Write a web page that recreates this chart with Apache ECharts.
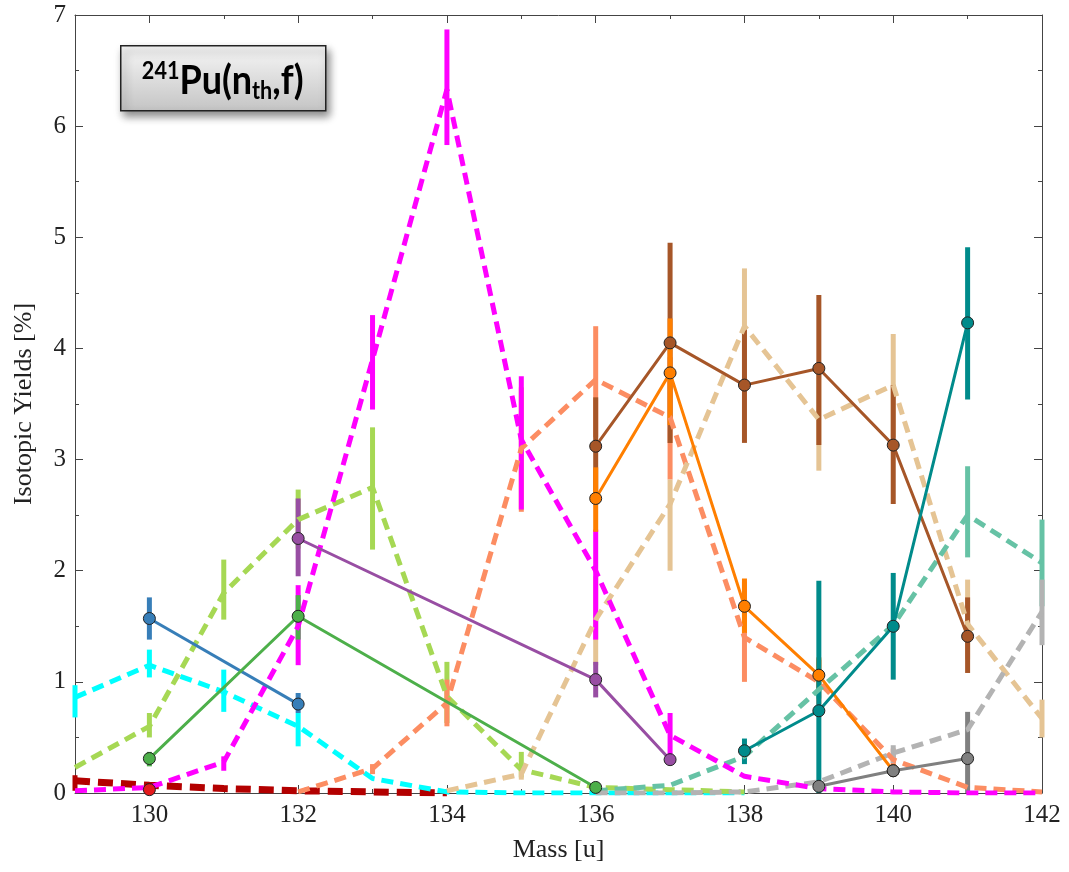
<!DOCTYPE html>
<html>
<head>
    <meta charset="UTF-8">
    <script src="https://cdn.jsdelivr.net/npm/echarts@6/dist/echarts.min.js"></script>
    <title>241Pu isotopic yields</title>
    <style>
        html, body { margin: 0; padding: 0; background: #fff; }
        #box { width: 1069px; height: 872px; }
    </style>
</head>
<body>
    <div id="box"></div>
    <script>
        // tick labels
        const majorTicks = [130, 132, 134, 136, 138, 140, 142]
        const minorTicks = [129, 131, 133, 135, 137, 139, 141]

        // dashed curves (calculated)
        const darkRedX = [129, 130, 131, 132, 133, 134]
        const darkRedY = [0.11, 0.07, 0.04, 0.02, 0.01, 0.0]
        const cyanX = [129, 130, 131, 132, 133, 134, 135, 136, 137, 138]
        const cyanY = [0.86, 1.15, 0.91, 0.60, 0.13, 0.01, 0, 0, 0, 0]
        const limeX = [129, 130, 131, 132, 133, 134, 135, 136, 137, 138]
        const limeY = [0.23, 0.60, 1.80, 2.46, 2.75, 0.87, 0.21, 0.05, 0.03, 0.01]
        const magentaX = [129, 130, 131, 132, 133, 134, 135, 136, 137, 138, 139, 140, 141, 142]
        const magentaY = [0.02, 0.05, 0.28, 1.50, 3.90, 6.33, 3.18, 2.00, 0.52, 0.15, 0.04, 0.01, 0, 0]
        const salmonX = [132, 133, 134, 135, 136, 137, 138, 139, 140, 141, 142]
        const salmonY = [0.01, 0.22, 0.81, 3.10, 3.72, 3.38, 1.40, 1.00, 0.30, 0.05, 0.01]
        const tanX = [134, 135, 136, 137, 138, 139, 140, 141, 142]
        const tanY = [0.02, 0.17, 1.56, 2.60, 4.20, 3.36, 3.67, 1.52, 0.67]
        const aquaX = [136, 137, 138, 139, 140, 141, 142]
        const aquaY = [0.02, 0.07, 0.33, 0.93, 1.51, 2.50, 2.07]
        const grayDashX = [136, 137, 138, 139, 140, 141, 142]
        const grayDashY = [0.0, 0.0, 0.01, 0.10, 0.36, 0.57, 1.63]

        // measured points
        const blueX = [130, 132]
        const blueY = [1.57, 0.80]
        const greenX = [130, 132, 136]
        const greenY = [0.31, 1.59, 0.05]
        const purpleX = [132, 136, 137]
        const purpleY = [2.29, 1.02, 0.30]
        const brownX = [136, 137, 138, 139, 140, 141]
        const brownY = [3.12, 4.05, 3.67, 3.82, 3.13, 1.41]
        const orangeX = [136, 137, 138, 139, 140]
        const orangeY = [2.65, 3.78, 1.68, 1.06, 0.20]
        const tealX = [138, 139, 140, 141]
        const tealY = [0.38, 0.74, 1.50, 4.23]
        const graySolidX = [139, 140, 141]
        const graySolidY = [0.06, 0.20, 0.31]
        const redX = [130]
        const redY = [0.03]

        // error bars: [mass, low, high]
        const darkRedErr = [[129, 0.02, 0.16]]
        const cyanErr = [[129, 0.68, 0.97], [130, 1.04, 1.29], [131, 0.73, 1.11], [132, 0.42, 0.72]]
        const limeErr = [[130, 0.50, 0.72], [131, 1.56, 2.10], [132, 2.20, 2.73], [133, 2.19, 3.29], [134, 0.63, 1.18], [135, 0.14, 0.37]]
        const magentaErr = [[131, 0.20, 0.33], [132, 1.15, 1.87], [133, 3.45, 4.30], [134, 5.83, 6.87], [135, 2.55, 3.75], [136, 1.38, 2.37], [137, 0.33, 0.72]]
        const salmonErr = [[133, 0.17, 0.26], [134, 0.60, 1.02], [135, 2.53, 3.65], [136, 3.20, 4.20], [137, 2.82, 3.92], [138, 1.00, 1.90], [139, 0.80, 1.20], [140, 0.20, 0.40]]
        const tanErr = [[135, 0.12, 0.22], [136, 1.15, 1.95], [137, 2.00, 2.82], [138, 3.68, 4.72], [139, 2.90, 3.80], [140, 3.20, 4.13], [141, 1.20, 1.92], [142, 0.50, 0.84]]
        const aquaErr = [[138, 0.30, 0.40], [139, 0.85, 1.00], [141, 2.12, 2.94], [142, 1.68, 2.46]]
        const grayDashErr = [[140, 0.27, 0.43], [142, 1.33, 1.92]]
        const blueErr = [[130, 1.38, 1.76], [132, 0.72, 0.90]]
        const greenErr = [[130, 0.24, 0.37], [132, 1.38, 1.78], [136, 0.0, 0.10]]
        const purpleErr = [[132, 1.95, 2.65], [136, 0.86, 1.18]]
        const brownErr = [[136, 2.68, 3.56], [137, 3.15, 4.95], [138, 3.15, 4.19], [139, 3.13, 4.48], [140, 2.60, 3.67], [141, 1.08, 1.76]]
        const orangeErr = [[136, 2.35, 2.93], [137, 3.31, 4.27], [138, 1.44, 1.93], [139, 0.93, 1.22], [140, 0.15, 0.26]]
        const tealErr = [[138, 0.26, 0.49], [139, 0.0, 1.91], [140, 1.02, 1.98], [141, 3.54, 4.91]]
        const graySolidErr = [[141, 0.0, 0.73]]

        function pairs(xs, ys) {
            return xs.map((x, i) => [x, ys[i]])
        }

        function errSeries(data, color) {
            return {
                type: 'custom',
                data: data,
                encode: { x: 0, y: [1, 2] },
                silent: true,
                renderItem: function (params, api) {
                    const a = api.coord([api.value(0), api.value(1)])
                    const b = api.coord([api.value(0), api.value(2)])
                    return {
                        type: 'line',
                        shape: { x1: a[0], y1: a[1], x2: b[0], y2: b[1] },
                        style: { stroke: color, lineWidth: 5 }
                    }
                }
            }
        }

        function dashSeries(xs, ys, color, width, dash) {
            return {
                type: 'line',
                data: pairs(xs, ys),
                symbol: 'none',
                silent: true,
                lineStyle: { color: color, width: width, type: dash }
            }
        }

        function solidSeries(xs, ys, color) {
            return {
                type: 'line',
                data: pairs(xs, ys),
                symbol: 'circle',
                symbolSize: 12,
                silent: true,
                lineStyle: { color: color, width: 3 },
                itemStyle: { color: color, borderColor: '#222', borderWidth: 1 }
            }
        }

        const series = []
        series.push(dashSeries(darkRedX, darkRedY, '#b30000', 7, [15, 8]), errSeries(darkRedErr, '#b30000'))
        series.push(dashSeries(cyanX, cyanY, '#00ffff', 5, [12, 7]), errSeries(cyanErr, '#00ffff'))
        series.push(dashSeries(limeX, limeY, '#a6d854', 5, [12, 7]), errSeries(limeErr, '#a6d854'))
        series.push(dashSeries(salmonX, salmonY, '#fc8d62', 5, [12, 7]), errSeries(salmonErr, '#fc8d62'))
        series.push(dashSeries(tanX, tanY, '#e5c494', 5, [12, 7]), errSeries(tanErr, '#e5c494'))
        series.push(dashSeries(aquaX, aquaY, '#66c2a5', 5, [12, 7]), errSeries(aquaErr, '#66c2a5'))
        series.push(dashSeries(grayDashX, grayDashY, '#b3b3b3', 5, [12, 7]), errSeries(grayDashErr, '#b3b3b3'))
        series.push(dashSeries(magentaX, magentaY, '#ff00ff', 5, [12, 7]), errSeries(magentaErr, '#ff00ff'))

        const solid = [
            [blueX, blueY, blueErr, '#377eb8'],
            [greenX, greenY, greenErr, '#4daf4a'],
            [purpleX, purpleY, purpleErr, '#984ea3'],
            [brownX, brownY, brownErr, '#a65628'],
            [orangeX, orangeY, orangeErr, '#ff7f00'],
            [tealX, tealY, tealErr, '#008b8b'],
            [graySolidX, graySolidY, graySolidErr, '#808080'],
            [redX, redY, [], '#e41a1c']
        ]
        solid.forEach(d => series.push(errSeries(d[2], d[3])))
        solid.forEach(d => series.push(solidSeries(d[0], d[1], d[3])))

        const serif = 'Liberation Serif'
        const axisLine = { show: true, lineStyle: { color: '#444', width: 1 } }
        const tickColor = { color: '#444' }

        const mychart = echarts.init(document.getElementById('box'))
        const option = {
            animation: false,
            grid: { left: 75, right: 27, top: 15, bottom: 79 },
            xAxis: [{
                type: 'value', position: 'bottom', min: 129, max: 142,
                axisLine: axisLine,
                axisTick: { inside: true, length: 8, customValues: majorTicks, lineStyle: tickColor },
                axisLabel: { customValues: majorTicks, fontFamily: serif, fontSize: 25, color: '#222', margin: 10 },
                splitLine: { show: false },
                name: 'Mass [u]', nameLocation: 'middle', nameGap: 44,
                nameTextStyle: { fontFamily: serif, fontSize: 26, color: '#222' }
            }, {
                type: 'value', position: 'bottom', min: 129, max: 142,
                axisLine: { show: false },
                axisTick: { inside: true, length: 4, customValues: minorTicks, lineStyle: tickColor },
                axisLabel: { show: false },
                splitLine: { show: false }
            }, {
                type: 'value', position: 'top', min: 129, max: 142,
                axisLine: axisLine,
                axisTick: { inside: true, length: 8, customValues: majorTicks, lineStyle: tickColor },
                axisLabel: { show: false },
                splitLine: { show: false }
            }, {
                type: 'value', position: 'top', min: 129, max: 142,
                axisLine: { show: false },
                axisTick: { inside: true, length: 4, customValues: minorTicks, lineStyle: tickColor },
                axisLabel: { show: false },
                splitLine: { show: false }
            }],
            yAxis: [{
                type: 'value', position: 'left', min: 0, max: 7, interval: 1,
                axisLine: axisLine,
                axisTick: { inside: true, length: 8, lineStyle: tickColor },
                minorTick: { show: true, splitNumber: 2, length: 4, lineStyle: tickColor },
                axisLabel: { fontFamily: serif, fontSize: 25, color: '#222', margin: 9 },
                splitLine: { show: false },
                name: 'Isotopic Yields [%]', nameLocation: 'middle', nameGap: 38,
                nameTextStyle: { fontFamily: serif, fontSize: 26, color: '#222' }
            }, {
                type: 'value', position: 'right', min: 0, max: 7, interval: 1,
                axisLine: axisLine,
                axisTick: { inside: true, length: 8, lineStyle: tickColor },
                minorTick: { show: true, splitNumber: 2, length: 4, lineStyle: tickColor },
                axisLabel: { show: false },
                splitLine: { show: false }
            }],
            /* title box */
            graphic: [{
                type: 'group',
                left: 120,
                top: 45,
                children: [{
                    type: 'rect',
                    shape: { x: 0, y: 0, width: 205, height: 65 },
                    style: {
                        fill: new echarts.graphic.LinearGradient(0, 0, 0, 1, [
                            { offset: 0, color: '#f7f7f7' },
                            { offset: 1, color: '#c4c4c4' }
                        ]),
                        stroke: '#222',
                        lineWidth: 1.5,
                        shadowBlur: 8,
                        shadowOffsetX: 3,
                        shadowOffsetY: 5,
                        shadowColor: 'rgba(0,0,0,0.45)'
                    }
                }, {
                    type: 'text',
                    x: 102,
                    y: 35,
                    scaleX: 0.9,
                    style: {
                        text: '{sup|241}{main|Pu(n}{sub|th}{main|,f)}',
                        align: 'center',
                        verticalAlign: 'middle',
                        fill: '#000',
                        rich: {
                            main: { fontFamily: 'Lato', fontWeight: 'bold', fontSize: 40, lineHeight: 46, verticalAlign: 'middle' },
                            sup: { fontFamily: 'Lato', fontWeight: 'bold', fontSize: 24, lineHeight: 24, verticalAlign: 'top', padding: [2, 0, 0, 0] },
                            sub: { fontFamily: 'Lato', fontWeight: 'bold', fontSize: 24, lineHeight: 24, verticalAlign: 'bottom' }
                        }
                    }
                }]
            }],
            series: series
        }

        mychart.setOption(option)
    </script>
</body>
</html>
